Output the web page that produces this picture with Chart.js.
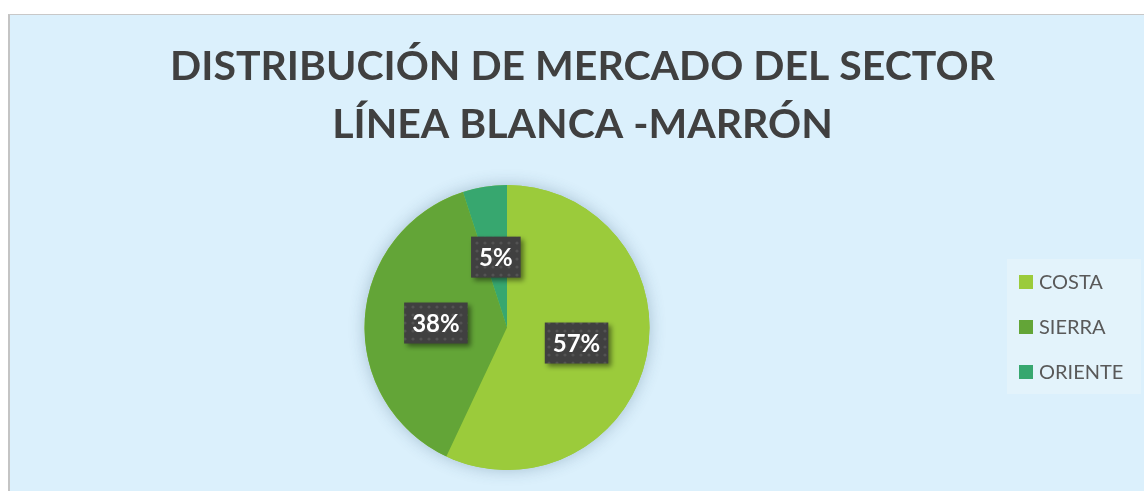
<!DOCTYPE html>
<html>
<head>
<meta charset="utf-8">
<script src="https://cdn.jsdelivr.net/npm/chart.js@4.4.1/dist/chart.umd.min.js"></script>
<style>
    html, body {
        margin: 0;
        padding: 0;
        background: #ffffff;
        overflow: hidden;
        width: 1144px;
        height: 491px;
    }
    #frame {
        position: absolute;
        left: 8px;
        top: 14px;
        width: 1160px;
        height: 500px;
        background: #dbf0fc;
        border-top: 1px solid #c8c8c8;
        border-left: 2px solid #c4c4c4;
    }
    #market_chart {
        position: absolute;
        left: 9px;
        top: 15px;
    }
</style>
</head>
<body>
<div id="frame"></div>
<canvas id="market_chart" width="1148" height="476"></canvas>
<script>
var arrTitle = ['DISTRIBUCIÓN DE MERCADO DEL SECTOR', 'LÍNEA BLANCA -MARRÓN'];
var arrRegions = ['COSTA', 'SIERRA', 'ORIENTE'];
var arrShares = [57, 38, 5];
var arrColors = ['#9bcb3b', '#63a537', '#37a76f'];

var strFont = 'Lato, "Open Sans", sans-serif';

// dotted fill used behind the percentage labels
function makeDotPattern(ctx) {
    var objTile = document.createElement('canvas');
    objTile.width = 8;
    objTile.height = 8;
    var tctx = objTile.getContext('2d');
    tctx.fillStyle = '#404040';
    tctx.fillRect(0, 0, 8, 8);
    tctx.fillStyle = 'rgba(255,255,255,0.10)';
    tctx.beginPath();
    tctx.arc(4, 4, 1.6, 0, Math.PI * 2);
    tctx.fill();
    return ctx.createPattern(objTile, 'repeat');
}

// soft halo under the whole pie
var pieShadow = {
    id: 'pieShadow',
    beforeDatasetsDraw: function (chart) {
        var arc = chart.getDatasetMeta(0).data[0];
        if (!arc) return;
        var ctx = chart.ctx;
        ctx.save();
        ctx.shadowColor = 'rgba(40,80,110,0.30)';
        ctx.shadowBlur = 16;
        ctx.fillStyle = arrColors[0];
        ctx.beginPath();
        ctx.arc(arc.x, arc.y, arc.outerRadius, 0, Math.PI * 2);
        ctx.fill();
        ctx.restore();
    }
};

var titleText = {
    id: 'titleText',
    afterDraw: function (chart) {
        var ctx = chart.ctx;
        ctx.save();
        ctx.fillStyle = '#404040';
        ctx.font = 'bold 41px ' + strFont;
        ctx.textAlign = 'center';
        ctx.textBaseline = 'alphabetic';
        ctx.fillText(arrTitle[0], 573.5, 65);
        ctx.fillText(arrTitle[1], 573.5, 123);
        ctx.restore();
    }
};

var percentLabels = {
    id: 'percentLabels',
    afterDatasetsDraw: function (chart) {
        var ctx = chart.ctx;
        var pattern = makeDotPattern(ctx);
        var values = chart.data.datasets[0].data;
        ctx.save();
        ctx.font = 'bold 24px ' + strFont;
        ctx.textAlign = 'center';
        ctx.textBaseline = 'middle';
        chart.getDatasetMeta(0).data.forEach(function (arc, i) {
            var pos = arc.tooltipPosition();
            var strText = values[i] + '%';
            var w = ctx.measureText(strText).width + 16;
            var h = 41;
            ctx.save();
            ctx.shadowColor = 'rgba(0,0,0,0.45)';
            ctx.shadowBlur = 5;
            ctx.shadowOffsetX = 3;
            ctx.shadowOffsetY = 3;
            ctx.fillStyle = pattern;
            ctx.fillRect(pos.x - w / 2, pos.y - h / 2, w, h);
            ctx.restore();
            ctx.fillStyle = '#ffffff';
            ctx.fillText(strText, pos.x, pos.y + 1);
        });
        ctx.restore();
    }
};

var sideLegend = {
    id: 'sideLegend',
    afterDraw: function (chart) {
        var ctx = chart.ctx;
        var colors = chart.data.datasets[0].backgroundColor;
        ctx.save();
        ctx.fillStyle = '#e3f3fb';
        ctx.fillRect(998, 244, 134, 135);
        ctx.font = '20px ' + strFont;
        ctx.textAlign = 'left';
        ctx.textBaseline = 'alphabetic';
        chart.data.labels.forEach(function (strLabel, i) {
            var y = 260 + i * 45;
            ctx.fillStyle = colors[i];
            ctx.fillRect(1010, y, 14, 14);
            ctx.fillStyle = '#595959';
            ctx.fillText(strLabel, 1030, y + 14);
        });
        ctx.restore();
    }
};

var ctx = document.getElementById('market_chart').getContext('2d');
var objMarketChart = new Chart(ctx, {
    type: 'pie',
    data: {
        labels: arrRegions,
        datasets: [{
            data: arrShares,
            backgroundColor: arrColors,
            borderWidth: 0
        }]
    },
    options: {
        responsive: false,
        animation: false,
        devicePixelRatio: 1,
        layout: {
            padding: {
                top: 170,
                bottom: 21,
                left: 355,
                right: 507
            }
        },
        plugins: {
            legend: { display: false },
            title: { display: false },
            tooltip: { enabled: false }
        }
    },
    plugins: [pieShadow, percentLabels, sideLegend, titleText]
});
</script>
</body>
</html>
